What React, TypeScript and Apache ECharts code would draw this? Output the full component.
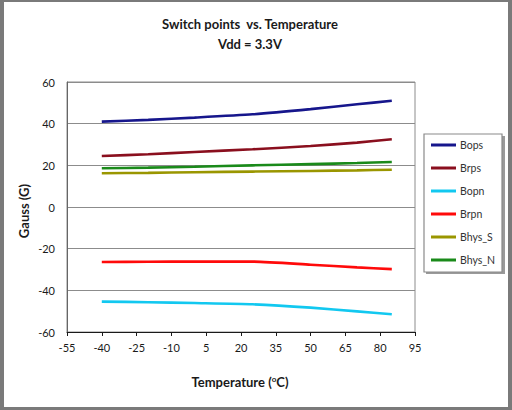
import React, { useEffect, useRef } from 'react';
import * as echarts from 'echarts';

// temperatures (°C) where the switch points were measured
const temps = [-40, -20, 0, 25, 50, 70, 85];

const bops = [41, 41.8, 42.9, 44.5, 47, 49.3, 51];
const brps = [24.5, 25.3, 26.4, 27.7, 29.3, 30.9, 32.5];
const bopn = [-45.4, -45.7, -46.1, -46.7, -48.3, -50.1, -51.5];
const brpn = [-26.4, -26.3, -26.2, -26.2, -27.7, -29, -29.8];
const bhysS = [16.2, 16.4, 16.7, 17, 17.3, 17.6, 17.9];
const bhysN = [18.6, 18.9, 19.3, 20, 20.6, 21.1, 21.6];

const seriesNames = ['Bops', 'Brps', 'Bopn', 'Brpn', 'Bhys_S', 'Bhys_N'];
const seriesColors = ['#16168c', '#8a0f1e', '#12c8f0', '#ff0a0a', '#9a9600', '#1a8a1a'];
const seriesValues = [bops, brps, bopn, brpn, bhysS, bhysN];

const FONT = 'Lato, "Liberation Sans", sans-serif';

const App: React.FC = () => {
  const chartRef = useRef<HTMLDivElement>(null);

  useEffect(() => {
    if (!chartRef.current) return;
    const myChart = echarts.init(chartRef.current, undefined, { renderer: 'svg' });

    const option: echarts.EChartsOption = {
      animation: false,
      backgroundColor: '#ffffff',
      graphic: [
        // outer frame
        { type: 'rect', z: -10, shape: { x: 0, y: 0, width: 512, height: 410 }, style: { fill: '#7a7a7a' } },
        { type: 'rect', z: -9, shape: { x: 4, y: 2, width: 504, height: 405 }, style: { fill: '#ffffff' } },
        // legend box with shadow
        { type: 'rect', z: -5, shape: { x: 426, y: 136, width: 79, height: 138 }, style: { fill: '#9a9a9a' } },
        { type: 'rect', z: -4, shape: { x: 424, y: 134, width: 78, height: 138 }, style: { fill: '#ffffff', stroke: '#8a8a8a', lineWidth: 1.2 } },
        {
          type: 'text', x: 250, y: 24,
          style: { text: 'Switch points  vs. Temperature', align: 'center', verticalAlign: 'middle', font: `bold 13px ${FONT}`, fill: '#1a1a1a' },
        },
        {
          type: 'text', x: 250, y: 44,
          style: { text: 'Vdd = 3.3V', align: 'center', verticalAlign: 'middle', font: `bold 13px ${FONT}`, fill: '#1a1a1a' },
        },
        {
          type: 'text', x: 24, y: 211, rotation: Math.PI / 2,
          style: { text: 'Gauss (G)', align: 'center', verticalAlign: 'middle', font: `bold 13px ${FONT}`, fill: '#1a1a1a' },
        },
        {
          type: 'text', x: 240, y: 382,
          style: {
            text: '{a|Temperature (}{s|o}{a|C)}',
            align: 'center', verticalAlign: 'middle',
            rich: {
              a: { fontFamily: FONT, fontWeight: 'bold', fontSize: 13, fill: '#1a1a1a', color: '#1a1a1a' },
              s: { fontFamily: FONT, fontWeight: 'bold', fontSize: 8, fill: '#1a1a1a', color: '#1a1a1a', verticalAlign: 'top', padding: [0, 0, 6, 0] },
            },
          } as any,
        },
      ],
      grid: {
        left: 67, top: 82, width: 348, height: 250,
        show: true, borderColor: '#8c8c8c', borderWidth: 1, containLabel: false,
      },
      legend: {
        orient: 'vertical',
        left: 431, top: 138,
        padding: 0,
        icon: 'rect',
        itemWidth: 25, itemHeight: 3,
        itemGap: 9,
        textStyle: { fontFamily: FONT, fontSize: 10.5, color: '#333', lineHeight: 14, padding: [0, 0, 0, -1] },
        data: seriesNames,
      },
      xAxis: {
        type: 'value',
        min: -55, max: 95, interval: 15,
        axisLine: { show: true, onZero: false, lineStyle: { color: '#1a1a1a', width: 1 } },
        axisTick: { show: true, length: 4, lineStyle: { color: '#1a1a1a' } },
        axisLabel: { fontFamily: FONT, fontSize: 11, color: '#1a1a1a', margin: 10 },
        splitLine: { show: false },
      },
      yAxis: {
        type: 'value',
        min: -60, max: 60, interval: 20,
        axisLine: { show: true, onZero: false, lineStyle: { color: '#666', width: 1 } },
        axisTick: { show: false },
        axisLabel: { fontFamily: FONT, fontSize: 11, color: '#1a1a1a', margin: 12 },
        splitLine: { show: true, lineStyle: { color: '#8c8c8c', width: 1 } },
      },
      series: seriesNames.map((name, i) => ({
        name,
        type: 'line',
        data: temps.map((t, j) => [t, seriesValues[i][j]]),
        showSymbol: false,
        smooth: 0.2,
        color: seriesColors[i],
        lineStyle: { color: seriesColors[i], width: 2.6 },
      })),
    };

    myChart.setOption(option);

    const handleResize = () => myChart.resize();
    window.addEventListener('resize', handleResize);

    return () => {
      window.removeEventListener('resize', handleResize);
      myChart.dispose();
    };
  }, []);

  return (
    <div
      ref={chartRef}
      style={{ position: 'fixed', left: 0, top: 0, width: '512px', height: '410px' }}
    />
  );
};

export default App;
